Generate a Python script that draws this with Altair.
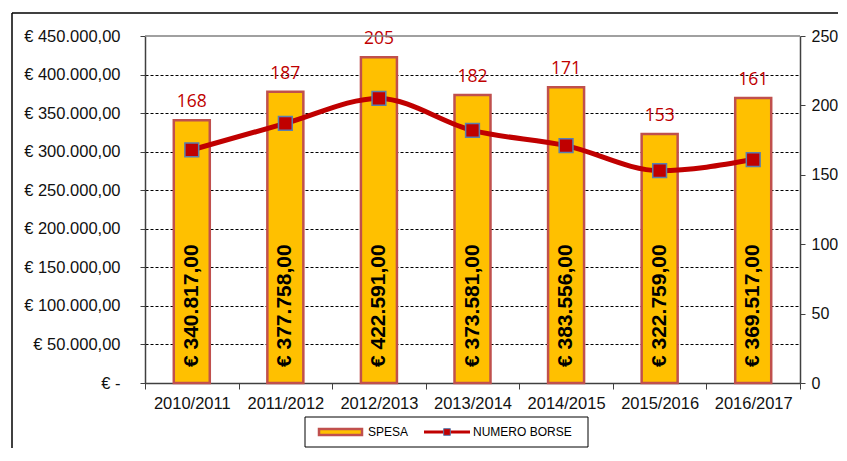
import altair as alt
import pandas as pd

anni = ["2010/2011", "2011/2012", "2012/2013", "2013/2014", "2014/2015", "2015/2016", "2016/2017"]
spesa = [340817, 377758, 422591, 373581, 383556, 322759, 369517]
numero_borse = [168, 187, 205, 182, 171, 153, 161]


def euro(v):
    s = f"{v:,.2f}".replace(",", "X").replace(".", ",").replace("X", ".")
    return "€ " + s


df = pd.DataFrame({
    "anno": anni,
    "spesa": spesa,
    "borse": numero_borse,
    "spesa_lbl": [euro(v) for v in spesa],
})

W, H = 655, 347
FONT = "Liberation Sans"
x_enc = alt.X("anno:N", sort=anni, title=None,
              scale=alt.Scale(paddingInner=0.0, paddingOuter=0.0),
              axis=alt.Axis(labelAngle=0, labelFont=FONT, labelFontSize=16.5, labelColor="#111",
                            tickBand="extent", tickSize=6, tickColor="#404040", domainColor="#404040",
                            domainWidth=1.5, labelPadding=6))

y_left = alt.Y("spesa:Q", title=None,
               scale=alt.Scale(domain=[0, 450000], nice=False),
               axis=alt.Axis(orient="left", values=list(range(0, 450001, 50000)),
                             labelExpr="datum.value == 0 ? '€ -' : '€ ' + format(datum.value/1000, 'd') + '.000,00'",
                             labelFont=FONT, labelFontSize=16.5, labelColor="#111", labelPadding=20,
                             tickSize=5, tickColor="#404040", domainColor="#404040", domainWidth=1.5,
                             grid=True, gridColor="#000", gridWidth=1,
                             gridDash={"condition": {"test": "datum.value === 450000", "value": []}, "value": [3, 2]},
                             gridOpacity={"condition": {"test": "datum.value === 450000", "value": 0}, "value": 1}))

bars = alt.Chart(df).mark_bar(width=36, fill="#FFC000", stroke="#C0504D", strokeWidth=2.5).encode(
    x=x_enc, y=y_left)

bar_text = alt.Chart(df).mark_text(angle=270, align="left", baseline="middle", dx=16,
                                   font=FONT, fontWeight="bold", fontSize=21, color="#000").encode(
    x=alt.X("anno:N", sort=anni), y=alt.value(H), text="spesa_lbl:N")

top_text = alt.Chart(df).mark_text(baseline="middle", dy=-18, font="Open Sans", fontSize=17.5,
                                   color="#C00000").encode(
    x=alt.X("anno:N", sort=anni), y=y_left, text="borse:Q")

top_border = alt.Chart(pd.DataFrame({"a": [0]})).mark_rule(color="#808080", strokeWidth=1.5).encode(
    x=alt.value(0), x2=alt.value(W), y=alt.value(0))

left_group = alt.layer(bars, bar_text, top_text, top_border)

y_right = alt.Y("borse:Q", title=None, scale=alt.Scale(domain=[0, 250], nice=False),
                axis=alt.Axis(orient="right", values=list(range(0, 251, 50)), labelFont=FONT,
                              labelFontSize=16, labelColor="#111", labelPadding=6, tickSize=5,
                              tickColor="#404040", domainColor="#404040", domainWidth=1.5, grid=False))

line = alt.Chart(df).mark_line(color="#C00000", strokeWidth=5, interpolate="monotone").encode(
    x=alt.X("anno:N", sort=anni), y=y_right)
pts = alt.Chart(df).mark_square(size=190, fill="#C00000", stroke="#5A7FB0", strokeWidth=1.5, opacity=1).encode(
    x=alt.X("anno:N", sort=anni), y=y_right)

right_group = alt.layer(line, pts)

one = pd.DataFrame({"a": [0]})
LY = 396
leg_box = alt.Chart(one).mark_rect(fill="white", stroke="#000", strokeWidth=1).encode(
    x=alt.value(160), x2=alt.value(443), y=alt.value(381), y2=alt.value(411))
leg_bar = alt.Chart(one).mark_rect(fill="#FFC000", stroke="#C0504D", strokeWidth=2.5).encode(
    x=alt.value(174), x2=alt.value(217), y=alt.value(LY - 3), y2=alt.value(LY + 3))
leg_t1 = alt.Chart(one).mark_text(align="left", baseline="middle", font=FONT, fontSize=12, color="#000").encode(
    x=alt.value(223), y=alt.value(LY), text=alt.value("SPESA"))
leg_line = alt.Chart(one).mark_rule(color="#C00000", strokeWidth=3).encode(
    x=alt.value(279), x2=alt.value(325), y=alt.value(LY))
leg_pt = alt.Chart(one).mark_square(size=45, fill="#C00000", stroke="#5A7FB0", strokeWidth=1, opacity=1).encode(
    x=alt.value(302), y=alt.value(LY))
leg_t2 = alt.Chart(one).mark_text(align="left", baseline="middle", font=FONT, fontSize=12, color="#000").encode(
    x=alt.value(328), y=alt.value(LY), text=alt.value("NUMERO BORSE"))

frame_v = alt.Chart(one).mark_rule(color="#000", strokeWidth=1.5).encode(
    x=alt.value(-133), y=alt.value(-23), y2=alt.value(420))
frame_h = alt.Chart(one).mark_rule(color="#000", strokeWidth=1.5).encode(
    x=alt.value(-133), x2=alt.value(720), y=alt.value(-23))

legend_group = alt.layer(leg_box, leg_bar, leg_t1, leg_line, leg_pt, leg_t2, frame_v, frame_h)

chart = alt.layer(left_group, right_group, legend_group).resolve_scale(y="independent").properties(
    width=W, height=H,
    autosize=alt.AutoSizeParams(type="none"),
    padding={"left": 137, "top": 28, "right": 38, "bottom": 65},
).configure_view(stroke=None)

chart.save("out.html", embed_options={"renderer": "svg", "actions": False})
